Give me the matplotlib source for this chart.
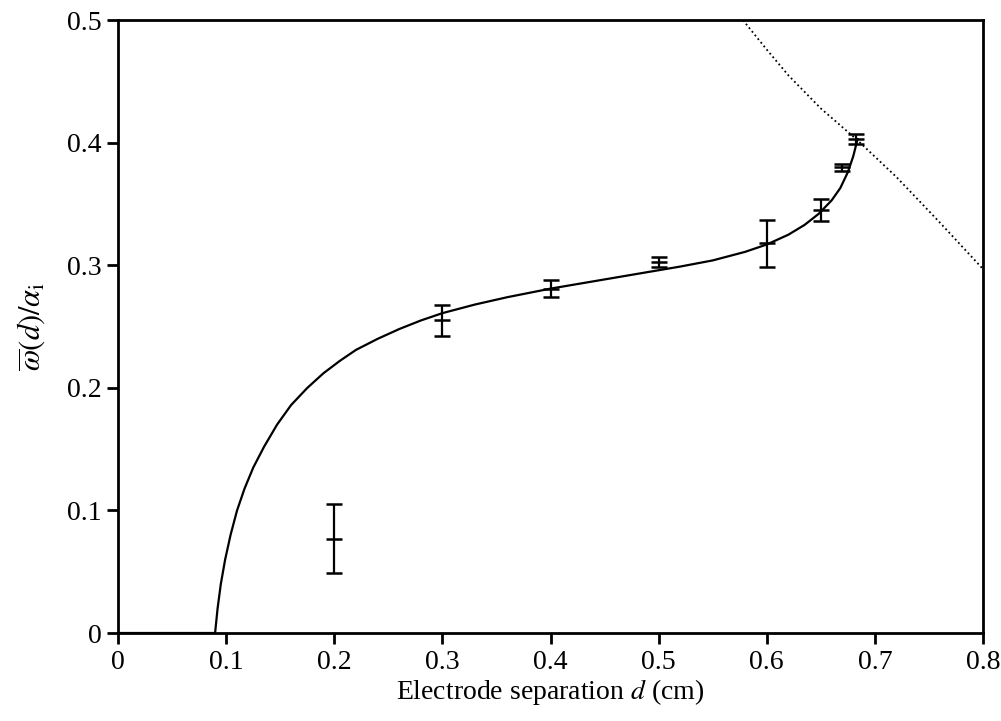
import numpy as np
import matplotlib.pyplot as plt

plt.rcParams['font.family'] = ['Liberation Serif', 'DejaVu Serif']
plt.rcParams['mathtext.fontset'] = 'stix'

# measured points with error bars
d_pts = [0.2, 0.3, 0.4, 0.5, 0.6, 0.65, 0.67, 0.683]
w_pts = [0.077, 0.255, 0.281, 0.3025, 0.318, 0.345, 0.380, 0.403]
w_err = [0.028, 0.013, 0.007, 0.004, 0.019, 0.009, 0.003, 0.004]

# theory curve (solid)
d_fit = [0.0897, 0.092, 0.095, 0.099, 0.104, 0.110, 0.117, 0.125, 0.135, 0.147,
         0.16, 0.175, 0.19, 0.205, 0.22, 0.24, 0.26, 0.28, 0.30, 0.33, 0.36,
         0.40, 0.44, 0.48, 0.52, 0.55, 0.58, 0.60, 0.62, 0.635, 0.648, 0.66,
         0.668, 0.675, 0.68, 0.684]
w_fit = [0.0, 0.02, 0.04, 0.06, 0.08, 0.1, 0.118, 0.135, 0.152, 0.170,
         0.186, 0.200, 0.212, 0.222, 0.231, 0.240, 0.248, 0.255, 0.261, 0.268, 0.274,
         0.281, 0.287, 0.293, 0.299, 0.304, 0.311, 0.317, 0.325, 0.333, 0.342, 0.353,
         0.363, 0.376, 0.389, 0.403]

# stability limit (dotted)
d_lim = [0.578, 0.60, 0.62, 0.65, 0.684, 0.72, 0.76, 0.8]
w_lim = [0.5, 0.476, 0.455, 0.428, 0.402, 0.372, 0.335, 0.297]

fig = plt.figure(figsize=(10.01, 7.21), dpi=100)
ax = fig.add_axes([0.118, 0.122, 0.864, 0.850])

ax.plot([0, d_fit[0]], [0, 0], color='black', lw=1.6)
ax.plot(d_fit, w_fit, color='black', lw=1.6)
ax.plot(d_lim, w_lim, color='black', lw=1.3, ls=(0, (1, 1.6)))
ax.errorbar(d_pts, w_pts, yerr=w_err, fmt='_', color='black', ms=11, mew=1.8,
            elinewidth=1.6, capsize=5.5, capthick=1.8)

ax.set_xlim(0, 0.8)
ax.set_ylim(0, 0.5)
ax.set_xticks(np.arange(0, 0.81, 0.1))
ax.set_xticklabels(['0', '0.1', '0.2', '0.3', '0.4', '0.5', '0.6', '0.7', '0.8'])
ax.set_yticks(np.arange(0, 0.51, 0.1))
ax.set_yticklabels(['0', '0.1', '0.2', '0.3', '0.4', '0.5'])
ax.tick_params(direction='out', length=8, width=2, labelsize=20, pad=4)
for s in ax.spines.values():
    s.set_linewidth(2)

ax.set_xlabel('Electrode separation $d$ (cm)', fontsize=20, labelpad=2)
ax.set_ylabel(r'$\overline{\omega}(d)/\alpha_{\rm i}$', fontsize=22, labelpad=14)

plt.savefig('out.png', dpi=100)
